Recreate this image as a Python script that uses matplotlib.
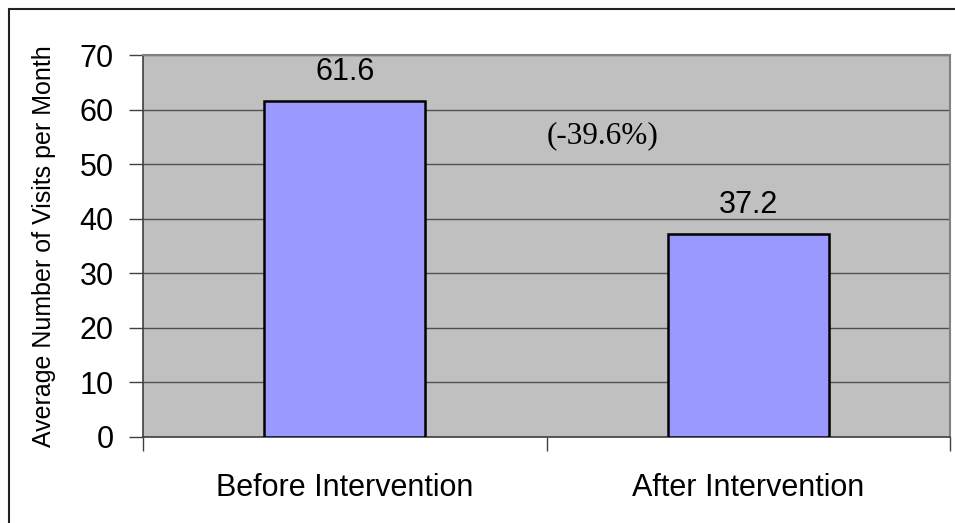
import numpy as np
import matplotlib
matplotlib.use('Agg')
import matplotlib.pyplot as plt
from matplotlib.patches import Rectangle

categories = ['Before Intervention', 'After Intervention']
visits = [61.6, 37.2]
change_label = '(-39.6%)'
change_pos = (0.64, 55.3)
yticks = [0, 10, 20, 30, 40, 50, 60, 70]

plt.rcParams['font.family'] = ['Liberation Sans', 'DejaVu Sans']

W, H = 955, 523
fig = plt.figure(figsize=(W / 100, H / 100), dpi=100)
# plot area in pixels: left 143, right 950, top 55, bottom 437
ax = fig.add_axes([143 / W, 1 - 437 / H, (950 - 143) / W, (437 - 55) / H])
ax.set_facecolor('#C0C0C0')

# outer chart frame, runs off the right and bottom edge
fig.patches.append(Rectangle((9 / W, -0.05), 1.1, 1 - 9 / H + 0.05, transform=fig.transFigure,
                             fill=False, edgecolor='#222222', linewidth=1.5, zorder=0))

x = np.arange(len(categories))
ax.bar(x, visits, width=0.4, color='#9999FF', edgecolor='black', linewidth=1.8, zorder=3)
for xi, v in zip(x, visits):
    ax.annotate(f'{v}', (xi, v), xytext=(0, 10), textcoords='offset points',
                ha='center', va='bottom', fontsize=22)

ax.text(change_pos[0], change_pos[1], change_label, ha='center', va='center',
        fontsize=22.5, family=['Liberation Serif', 'DejaVu Serif'])

ax.set_xlim(-0.5, 1.5)
ax.set_ylim(0, 70)
ax.set_yticks(yticks)
ax.yaxis.grid(True, color='#505050', linewidth=1.0, zorder=1)
ax.set_axisbelow(True)
ax.tick_params(axis='y', labelsize=22, length=10, width=1, color='#404040', pad=11)

# category ticks sit at the boundaries, labels centred under bars
ax.set_xticks([-0.5, 0.5, 1.5])
ax.set_xticklabels([])
ax.set_xticks(x, minor=True)
ax.set_xticklabels(categories, minor=True, fontsize=22)
ax.tick_params(axis='x', which='major', length=10, width=1, color='#404040')
ax.tick_params(axis='x', which='minor', length=0, pad=26)

for s in ['left', 'bottom']:
    ax.spines[s].set_color('#404040')
    ax.spines[s].set_linewidth(1.2)
for s in ['top', 'right']:
    ax.spines[s].set_color('#808080')
    ax.spines[s].set_linewidth(1.5)

ax.set_ylabel('Average Number of Visits per Month', fontsize=18)
ax.yaxis.set_label_coords(-87 / (950 - 143), 0.5)

plt.savefig('out.png', dpi=100)
